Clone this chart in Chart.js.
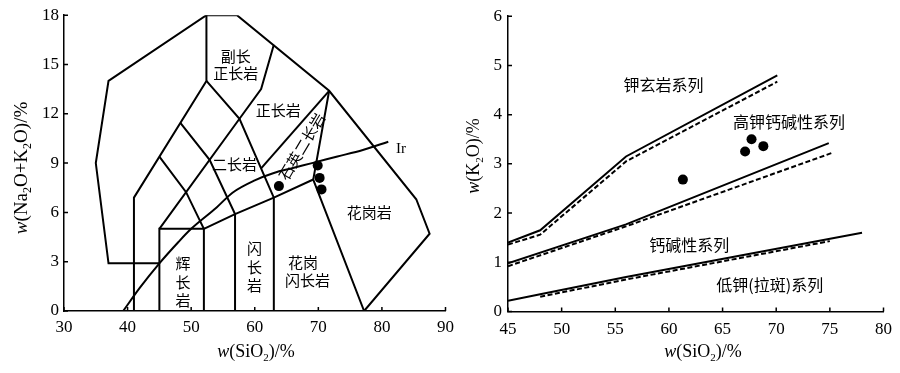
<!DOCTYPE html>
<html>
<head>
<meta charset="utf-8">
<script src="https://cdn.jsdelivr.net/npm/chart.js@4/dist/chart.umd.min.js"></script>
<style>
  body { margin: 0; background: #fff; width: 900px; height: 373px; position: relative; overflow: hidden; }
  #tas { position: absolute; left: 0; top: 0; }
  #k2o { position: absolute; left: 460px; top: 0; }
</style>
</head>
<body>
<canvas id="tas" width="460" height="373"></canvas>
<canvas id="k2o" width="440" height="373"></canvas>
<script>
// ── TAS diagram (left) : [SiO2, Na2O+K2O] ─────────────
const tasOuter   = [[45, 2.9], [37, 2.9], [35, 9], [37, 14], [52.4, 18], [57.2, 18], [71.7, 13.4], [85.4, 6.8], [87.5, 4.7], [77.2, 0]];
const tasLineA   = [[41, 0], [41, 6.9], [52.4, 14], [52.4, 18]];
const tasGabbro  = [[45, 0], [45, 5], [52, 5], [52, 0]];
const tasLineC   = [[45, 5], [57.6, 11.7], [61, 13.5], [63, 16.2]];
const tasLineD   = [[52.4, 14], [57.6, 11.7], [63, 6.9], [63, 0]];
const tasLineE   = [[48.3, 11.45], [52.9, 9.2], [56.9, 5.9], [56.9, 0]];
const tasLineF   = [[45, 9.4], [49.2, 7.23], [52, 5]];
const tasLineH   = [[52, 5], [56.9, 5.9], [63, 6.9], [69.2, 8.0]];
const tasLineI   = [[61, 8.68], [71.7, 13.4]];
const tasLineJ   = [[77.2, 0], [69.2, 8.0], [71.7, 13.4]];
const irvine     = [[39.3, 0], [42, 1.45], [45, 2.9], [48, 4.2], [50, 5.0], [54, 6.3], [56.5, 7.2], [60, 7.95], [63, 8.4], [66, 8.7], [69, 9.0], [73, 9.4], [77, 9.8], [81, 10.3]];
const tasSamples = [[63.8, 7.6], [69.9, 8.85], [70.2, 8.1], [70.5, 7.4]];

const tasLabels = [
  { t: '副长',   x: 57.0, y: 15.5 },
  { t: '正长岩', x: 57.0, y: 14.45 },
  { t: '正长岩', x: 63.7, y: 12.2 },
  { t: '二长岩', x: 56.8, y: 8.9 },
  { t: '石英二长岩', x: 67.4, y: 10.0, rot: -59.4 },
  { t: '花岗岩', x: 78.0, y: 6.0 },
  { t: '花岗',   x: 67.6, y: 2.95 },
  { t: '闪长岩', x: 68.3, y: 1.85 },
  { t: '闪', x: 59.95, y: 3.8 }, { t: '长', x: 59.95, y: 2.65 }, { t: '岩', x: 59.95, y: 1.55 },
  { t: '辉', x: 48.7, y: 2.9 },  { t: '长', x: 48.7, y: 1.75 },  { t: '岩', x: 48.7, y: 0.65 },
];

// ── K2O-SiO2 diagram (right) ──────────────────────────
const shoSolid  = [[45, 1.4], [48, 1.65], [56, 3.15], [70.1, 4.8]];
const shoDash   = [[45, 1.36], [48, 1.56], [56, 3.05], [70.1, 4.67]];
const hkSolid   = [[45, 0.98], [56, 1.77], [74.9, 3.42]];
const hkDash    = [[45, 0.92], [56, 1.73], [75.3, 3.23]];
const lkSolid   = [[45, 0.22], [48, 0.35], [56, 0.7], [78, 1.6]];
const lkDash    = [[48, 0.3], [56, 0.65], [75, 1.43]];
const k2oSamples = [[61.3, 2.68], [67.1, 3.25], [67.7, 3.5], [68.8, 3.36]];

const k2oLabels = [
  { t: '钾玄岩系列',     x: 59.5, y: 4.6 },
  { t: '高钾钙碱性系列', x: 71.2, y: 3.86 },
  { t: '钙碱性系列',     x: 61.9, y: 1.35 },
  { t: '低钾(拉斑)系列', x: 69.4, y: 0.53 },
];

const SERIF = '"Liberation Serif", "DejaVu Serif", serif';
const CJK = '"Noto Sans CJK SC", sans-serif';

// ── helpers ───────────────────────────────────────────
const pts = arr => arr.map(([x, y]) => ({ x, y }));

function lineSet(arr, dashed = false, smooth = false) {
  return {
    data: pts(arr), showLine: true, pointRadius: 0, borderColor: '#000',
    borderWidth: 2, borderDash: dashed ? [5, 2.5] : [], fill: false,
    tension: smooth ? 0.4 : 0, cubicInterpolationMode: smooth ? 'monotone' : 'default',
  };
}

function sampleSet(arr) {
  return { data: pts(arr), showLine: false, pointRadius: 5, pointBackgroundColor: '#000', pointBorderColor: '#000', pointBorderWidth: 0 };
}

function drawRich(ctx, parts, x, y, size, rot = 0) {
  ctx.save();
  ctx.translate(x, y);
  ctx.rotate(rot);
  const fontOf = p => `${p.i ? 'italic ' : ''}${p.s ? Math.round(size * 0.62) : size}px ${SERIF}`;
  let w = 0;
  parts.forEach(p => { ctx.font = fontOf(p); w += ctx.measureText(p.t).width; });
  let cx = -w / 2;
  ctx.textBaseline = 'middle';
  ctx.textAlign = 'left';
  ctx.fillStyle = '#000';
  parts.forEach(p => {
    ctx.font = fontOf(p);
    ctx.fillText(p.t, cx, p.s ? size * 0.32 : 0);
    cx += ctx.measureText(p.t).width;
  });
  ctx.restore();
}

// inward tick marks + text labels + axis titles
const decor = {
  id: 'decor',
  afterDraw(chart, args, opts) {
    const { ctx, chartArea } = chart;
    const xs = chart.scales.x, ys = chart.scales.y;
    ctx.save();
    ctx.strokeStyle = '#000';
    ctx.lineWidth = 1.5;
    ctx.beginPath();
    xs.ticks.forEach(t => {
      const px = xs.getPixelForValue(t.value);
      ctx.moveTo(px, chartArea.bottom); ctx.lineTo(px, chartArea.bottom - 4);
    });
    ys.ticks.forEach(t => {
      const py = ys.getPixelForValue(t.value);
      ctx.moveTo(chartArea.left, py); ctx.lineTo(chartArea.left + 4, py);
    });
    ctx.stroke();

    ctx.fillStyle = '#000';
    ctx.textAlign = 'center';
    ctx.textBaseline = 'middle';
    opts.labels.forEach(l => {
      ctx.save();
      ctx.translate(xs.getPixelForValue(l.x), ys.getPixelForValue(l.y));
      if (l.rot) ctx.rotate(l.rot * Math.PI / 180);
      ctx.font = `${opts.labelSize}px ${l.font || CJK}`;
      ctx.fillText(l.t, 0, 0);
      ctx.restore();
    });
    ctx.restore();

    drawRich(ctx, opts.xTitle, opts.xTitlePos[0], opts.xTitlePos[1], 18);
    drawRich(ctx, opts.yTitle, opts.yTitlePos[0], opts.yTitlePos[1], opts.yTitleSize, -Math.PI / 2);
  },
};

function axis(min, max, step, fixed, pad) {
  return {
    type: 'linear', min, max,
    ticks: { stepSize: step, color: '#000', padding: pad, font: { family: SERIF, size: 17 } },
    grid: { display: true, drawOnChartArea: false, drawTicks: false },
    border: { display: true, color: '#000', width: 1.5 },
    afterFit: s => { if (s.isHorizontal()) s.height = fixed; else s.width = fixed; },
  };
}

function makeChart(id, datasets, scales, padding, decorOpts) {
  return new Chart(document.getElementById(id), {
    type: 'scatter',
    data: { datasets },
    options: {
      responsive: false, animation: false, devicePixelRatio: 1,
      layout: { padding },
      plugins: { legend: { display: false }, tooltip: { enabled: false }, decor: decorOpts },
      scales,
    },
    plugins: [decor],
  });
}

// ── left chart ────────────────────────────────────────
makeChart('tas',
  [
    lineSet(tasOuter), lineSet(tasLineA), lineSet(tasGabbro), lineSet(tasLineC),
    lineSet(tasLineD), lineSet(tasLineE), lineSet(tasLineF), lineSet(tasLineH),
    lineSet(tasLineI), lineSet(tasLineJ), lineSet(irvine, false, true),
    sampleSet(tasSamples),
  ],
  { x: axis(30, 90, 10, 62, 6), y: axis(0, 18, 3, 64, 5) },
  { top: 11, right: 13, left: 0, bottom: 0 },
  {
    labels: tasLabels.concat([{ t: 'Ir', x: 83.0, y: 9.85, font: SERIF }]),
    labelSize: 15,
    xTitle: [{ t: 'w', i: true }, { t: '(SiO' }, { t: '2', s: true }, { t: ')/%' }],
    xTitlePos: [256, 352],
    yTitle: [{ t: 'w', i: true }, { t: '(Na' }, { t: '2', s: true }, { t: 'O+K' }, { t: '2', s: true }, { t: 'O)/%' }],
    yTitlePos: [22, 168],
    yTitleSize: 19,
  });

// ── right chart ───────────────────────────────────────
makeChart('k2o',
  [
    lineSet(shoSolid), lineSet(shoDash, true), lineSet(hkSolid), lineSet(hkDash, true),
    lineSet(lkSolid), lineSet(lkDash, true), sampleSet(k2oSamples),
  ],
  { x: axis(45, 80, 5, 61.5, 8), y: axis(0, 6, 1, 48, 6) },
  { top: 11, right: 9, left: 0, bottom: 0 },
  {
    labels: k2oLabels,
    labelSize: 16,
    xTitle: [{ t: 'w', i: true }, { t: '(SiO' }, { t: '2', s: true }, { t: ')/%' }],
    xTitlePos: [243, 352],
    yTitle: [{ t: 'w', i: true }, { t: '(K' }, { t: '2', s: true }, { t: 'O)/%' }],
    yTitlePos: [14, 156],
    yTitleSize: 18,
  });
</script>
</body>
</html>
